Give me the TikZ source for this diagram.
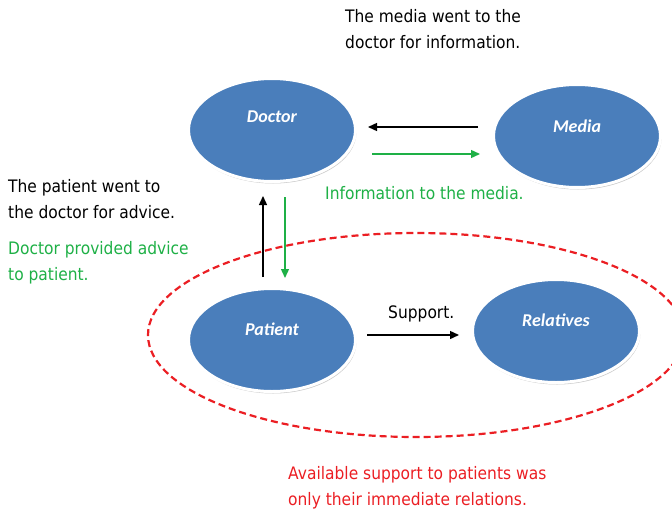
\documentclass[tikz,border=0pt]{standalone}
\usepackage{fontspec}
\setmainfont{DejaVu Sans}[FakeStretch=0.9]
\newfontfamily\nodefont{Carlito}
\usetikzlibrary{shapes.geometric,arrows.meta,shadows}
\definecolor{blobblue}{RGB}{74,126,187}
\definecolor{grn}{RGB}{30,176,70}
\definecolor{redd}{RGB}{235,30,35}
\tikzset{
  blob/.style={ellipse, fill=blobblue, draw=white, line width=3pt, inner sep=0pt,
    minimum width=167pt, minimum height=103pt,
    drop shadow={shadow xshift=1pt, shadow yshift=-2pt, opacity=0.35, fill=black!60}},
  blobtext/.style={text=white, font=\nodefont\fontsize{18}{20}\selectfont\bfseries\itshape},
  lbl/.style={anchor=base west, align=left, inner sep=0pt, font=\fontsize{17.2}{25.5}\selectfont},
  arr/.style={line width=1.4pt, -{Triangle[length=9pt,width=8pt]}},
}
\begin{document}
\begin{tikzpicture}[x=1pt,y=-1pt]
\useasboundingbox (0,0) rectangle (672,514);
\clip (0,0) rectangle (672,514);
% group ellipse
\node[ellipse, draw=redd, line width=2.2pt, dash pattern=on 7pt off 4pt, inner sep=0pt,
  minimum width=536pt, minimum height=204pt] (grp) at (416,335) {};
% nodes
\node[blob] (doc) at (272,130) {};
\node[blob] (med) at (577,136) {};
\node[blob] (pat) at (272,340) {};
\node[blob] (rel) at (556,331) {};
\node[blobtext] (doct) at (272,117) {Doctor};
\node[blobtext] (medt) at (577,126) {Media};
\node[blobtext] (patt) at (272,329) {Patient};
\node[blobtext] (relt) at (556,320) {Relatives};
% arrow end points
\coordinate (mdS) at (478,127);
\coordinate (mdE) at (368,127);
\coordinate (dmS) at (372,154);
\coordinate (dmE) at (480,154);
\coordinate (pdS) at (263,277);
\coordinate (pdE) at (263,196);
\coordinate (dpS) at (285,197);
\coordinate (dpE) at (285,278);
\coordinate (prS) at (367,335);
\coordinate (prE) at (459,335);
\draw[arr] (mdS) -- (mdE);
\draw[arr, grn] (dmS) -- (dmE);
\draw[arr] (pdS) -- (pdE);
\draw[arr, grn] (dpS) -- (dpE);
\draw[arr] (prS) -- (prE);
% texts (anchored at the baseline of the last line)
\node[lbl] (t1) at (345,48) {The media went to the\\doctor for information.};
\node[lbl, text=grn] (t2) at (325,199) {Information to the media.};
\node[lbl] (t3) at (8,218) {The patient went to\\the doctor for advice.};
\node[lbl, text=grn] (t4) at (8,280) {Doctor provided advice\\to patient.};
\node[lbl] (t5) at (388,318) {Support.};
\node[lbl, text=redd] (t6) at (288,505) {Available support to patients was\\only their immediate relations.};
\end{tikzpicture}
\end{document}
